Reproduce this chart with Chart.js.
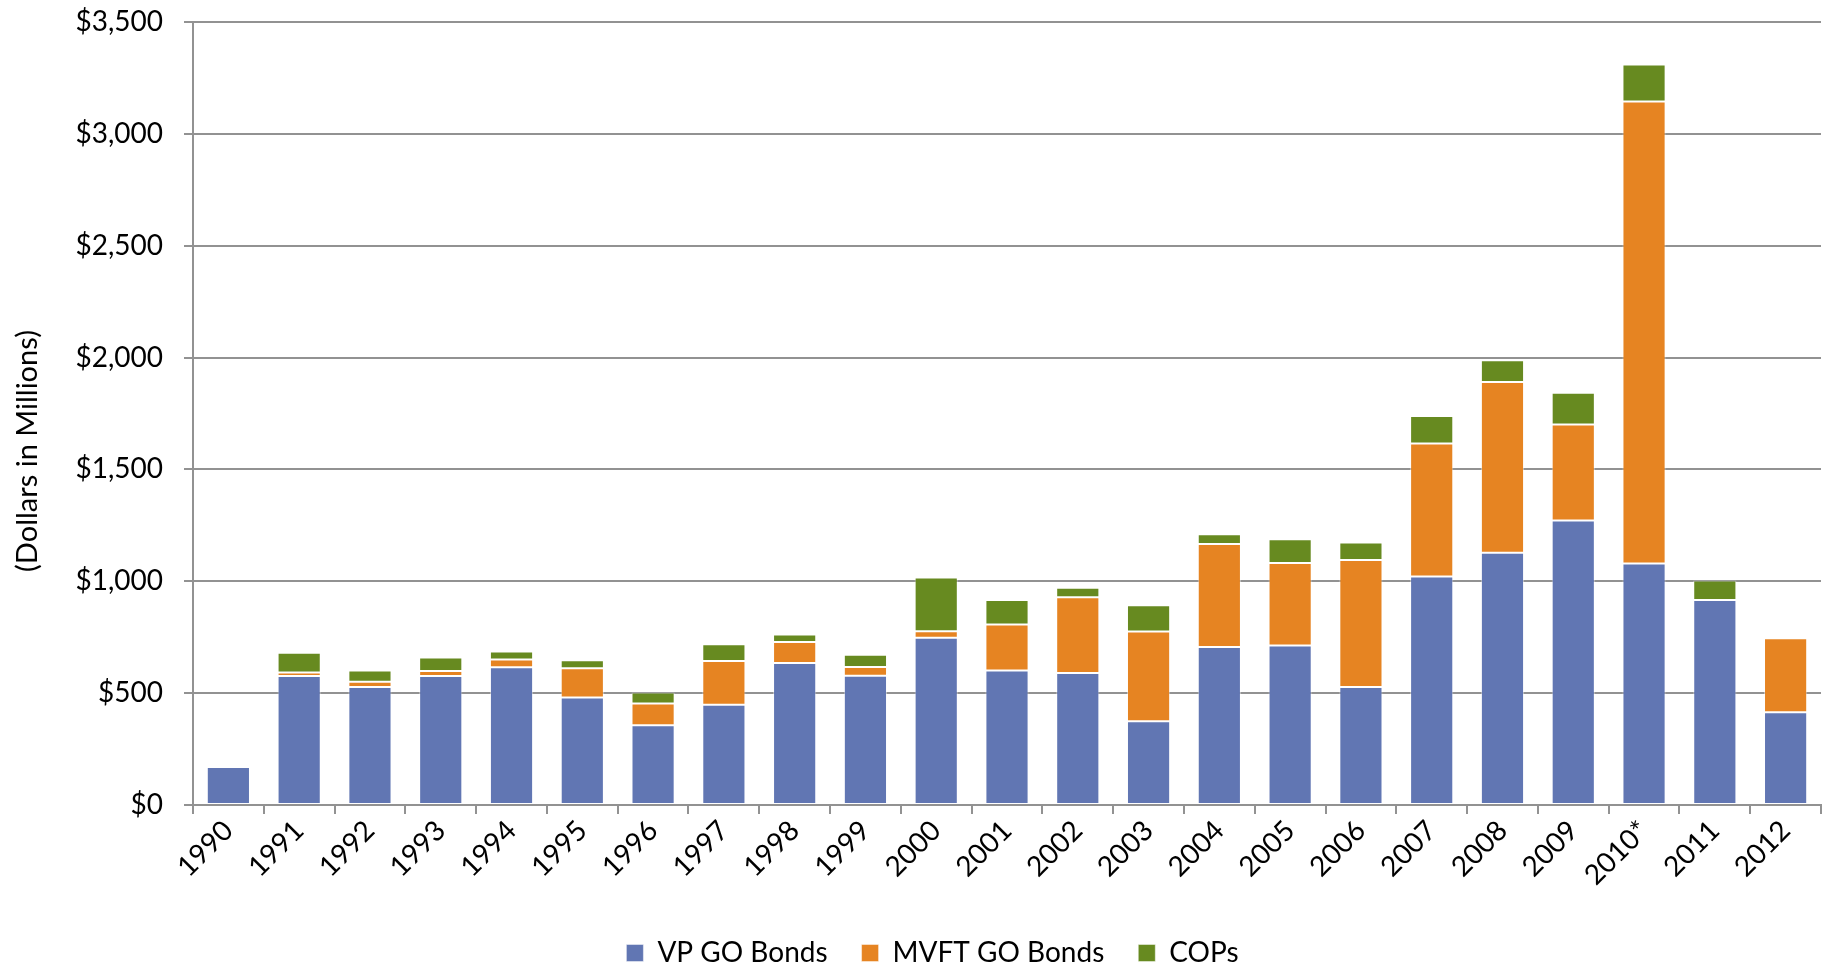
<!DOCTYPE html>
<html>
<head>
<meta charset="utf-8">
<title>Bond and COP Issuance, 1990–2012</title>
<script src="https://cdn.jsdelivr.net/npm/chart.js@4/dist/chart.umd.min.js"></script>
<style>
  html, body { margin: 0; padding: 0; background: #fff; }
  #wrap { width: 1829px; height: 966px; }
</style>
</head>
<body>
<div id="wrap"><canvas id="chart" width="1829" height="966"></canvas></div>
<script>
// Issuance by year, dollars in millions
const years = ['1990','1991','1992','1993','1994','1995','1996','1997','1998','1999','2000',
               '2001','2002','2003','2004','2005','2006','2007','2008','2009','2010*','2011','2012'];
const vpGoBonds   = [170, 577, 527, 577, 616, 480, 357, 448, 635, 578, 748,
                     601, 590, 374, 706, 713, 527, 1021, 1127, 1272, 1079, 916, 415];
const mvftGoBonds = [0, 15, 24, 22, 34, 131, 97, 196, 94, 39, 29,
                     206, 339, 401, 461, 369, 568, 595, 764, 429, 2066, 0, 330];
const cops        = [7, 88, 50, 60, 36, 36, 49, 75, 33, 55, 240,
                     109, 42, 118, 43, 106, 78, 123, 97, 142, 165, 88, 0];
const yTicks = [0, 500, 1000, 1500, 2000, 2500, 3000, 3500];
const yTitle = '(Dollars in Millions)';

const FONT = 'Lato, "Open Sans", sans-serif';
const GRID = '#929292';

const bar = (label, data, color) => ({
  label, data,
  backgroundColor: color,
  borderColor: 'rgba(255,255,255,0.45)',
  borderWidth: 1,
  borderSkipped: false,
  categoryPercentage: 1.0,
  barPercentage: 0.61
});

// Axis title drawn beside the y ticks, centred a little below the plot's midpoint
const yTitlePlugin = {
  id: 'yTitle',
  afterDraw: (chart) => {
    const ctx = chart.ctx;
    ctx.save();
    ctx.translate(28, 451);
    ctx.rotate(-Math.PI / 2);
    ctx.font = '29px ' + FONT;
    ctx.fillStyle = '#000';
    ctx.textAlign = 'center';
    ctx.textBaseline = 'middle';
    ctx.fillText(yTitle, 0, 0);
    ctx.restore();
  }
};

// Nudge the legend row slightly right so it sits under the middle of the plot
const legendShift = {
  id: 'legendShift',
  afterLayout: (chart) => {
    if (chart.legend) {
      chart.legend.left += 19;
      chart.legend.right += 19;
    }
  }
};

new Chart(document.getElementById('chart'), {
  type: 'bar',
  data: {
    labels: years,
    datasets: [
      bar('VP GO Bonds', vpGoBonds, '#6176B3'),
      bar('MVFT GO Bonds', mvftGoBonds, '#E68422'),
      bar('COPs', cops, '#678A20')
    ]
  },
  options: {
    responsive: false,
    animation: false,
    layout: { padding: { left: 6, right: 8, top: 22, bottom: -11 } },
    plugins: {
      tooltip: { enabled: false },
      legend: {
        position: 'bottom',
        labels: {
          font: { family: FONT, size: 28 },
          color: '#000',
          boxWidth: 17,
          boxHeight: 17,
          padding: 34
        }
      }
    },
    scales: {
      x: {
        stacked: true,
        afterFit: (axis) => { axis.height = 100; },
        grid: { drawOnChartArea: false, drawTicks: true, tickLength: 9, color: GRID, lineWidth: 2 },
        border: { color: GRID, width: 2 },
        ticks: {
          font: { family: FONT, size: 28 },
          color: '#000',
          maxRotation: 45,
          minRotation: 45,
          padding: 0
        }
      },
      y: {
        stacked: true,
        min: 0,
        max: 3500,
        afterBuildTicks: (axis) => { axis.ticks = yTicks.map(v => ({ value: v })); },
        afterFit: (axis) => {
          axis.width = 187;
          axis.paddingTop = 0;
          axis.paddingBottom = 0;
        },
        grid: { color: GRID, lineWidth: 2, tickLength: 9 },
        border: { color: GRID, width: 2 },
        ticks: {
          font: { family: FONT, size: 28 },
          color: '#000',
          padding: 21,
          callback: (v) => '$' + Number(v).toLocaleString('en-US')
        }
      }
    }
  },
  plugins: [{
    id: 'whiteBackground',
    beforeDraw: (chart) => {
      const ctx = chart.ctx;
      ctx.save();
      ctx.fillStyle = '#fff';
      ctx.fillRect(0, 0, chart.width, chart.height);
      ctx.restore();
    }
  }, yTitlePlugin, legendShift]
});
</script>
</body>
</html>
